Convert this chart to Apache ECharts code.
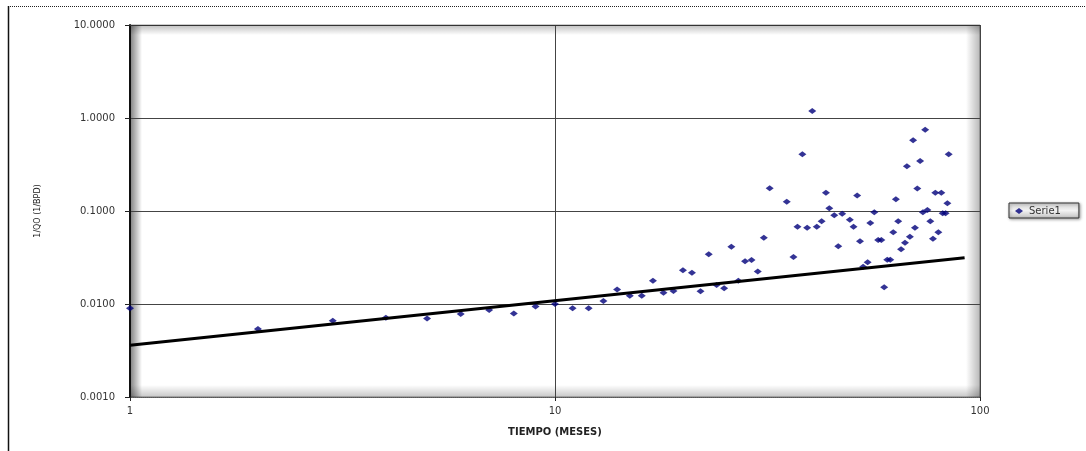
<!DOCTYPE html>
<html>
<head>
<meta charset="utf-8">
<script src="https://cdn.jsdelivr.net/npm/echarts@6/dist/echarts.min.js"></script>
<style>
html,body{margin:0;padding:0;background:#fff;}
#chart{width:1086px;height:451px;}
</style>
</head>
<body>
<div id="chart"></div>
<script>
// ---- data ----
var months = [1, 2, 3, 4, 5, 6, 7, 8, 9, 10, 11, 12, 13, 14, 15, 16, 17, 18, 19, 20,
  21, 22, 23, 24, 25, 26, 27, 28, 29, 30, 31, 32, 35.1, 36.4, 37.2, 38.2, 39.2, 40.3, 41.3, 42.4,
  43.4, 44.2, 45.4, 46.4, 47.4, 49.4, 50.4, 51.4, 52.2, 53.1, 54.4, 55.2, 56.4, 57.6, 58.6, 59.5,
  60.5, 61.5, 62.5, 63.4, 64.2, 65.2, 66.6, 67.3, 68.4, 69.6, 70.3, 71.2, 72.3, 73.4, 74.3, 75.2,
  76.4, 77.5, 78.5, 79.8, 81.1, 81.7, 83.0, 83.8, 84.4];
var invQo = [0.0090, 0.0054, 0.0066, 0.0071, 0.0070, 0.0078, 0.0086, 0.0079, 0.0094, 0.0100,
  0.0090, 0.0090, 0.0108, 0.0143, 0.0123, 0.0123, 0.0178, 0.0132, 0.0138, 0.0230,
  0.0217, 0.0137, 0.0342, 0.0160, 0.0148, 0.0413, 0.0178, 0.0289, 0.0298, 0.0223,
  0.0516, 0.176, 0.126, 0.0320, 0.0678, 0.407, 0.0661, 1.19, 0.0678, 0.0775,
  0.157, 0.107, 0.0899, 0.0417, 0.0935, 0.0806, 0.0678, 0.147, 0.0472, 0.0252,
  0.0281, 0.0743, 0.0968, 0.0488, 0.0488, 0.0151, 0.0299, 0.0299, 0.0590, 0.134,
  0.0775, 0.0387, 0.0456, 0.303, 0.0529, 0.576, 0.0661, 0.175, 0.345, 0.0968,
  0.748, 0.1025, 0.0775, 0.0504, 0.157, 0.0590, 0.157, 0.0945, 0.0945, 0.121, 0.407];
var trendX = [1, 92];
var trendY = [0.0036, 0.0315];
var seriesName = 'Serie1';
var xTitle = 'TIEMPO (MESES)';
var yTitle = '1/QO (1/BPD)';

var scatterData = months.map(function (m, i) { return [m, invQo[i]]; });
var trendData = trendX.map(function (x, i) { return [x, trendY[i]]; });

var G = {left: 130, top: 25, right: 980, bottom: 397};
var font = 'DejaVu Sans, Verdana, sans-serif';

var chart = echarts.init(document.getElementById('chart'), null, {renderer: 'canvas'});
chart.setOption({
  backgroundColor: '#ffffff',
  animation: false,
  grid: {
    left: G.left, top: G.top, right: 1086 - G.right, bottom: 451 - G.bottom,
    show: true, backgroundColor: '#ffffff', borderColor: '#9a9a9a', borderWidth: 1
  },
  legend: {
    data: [{name: seriesName, icon: 'diamond'}],
    left: 1009, top: 203,
    itemWidth: 8, itemHeight: 6, itemGap: 4,
    padding: [3, 18, 2, 6],
    backgroundColor: {type: 'linear', x: 0, y: 0, x2: 0, y2: 1,
      colorStops: [{offset: 0, color: '#d0d0d0'}, {offset: 0.5, color: '#f2f2f2'}, {offset: 1, color: '#c0c0c0'}]},
    borderColor: '#333', borderWidth: 1,
    shadowColor: 'rgba(0,0,0,0.35)', shadowBlur: 3, shadowOffsetX: 1, shadowOffsetY: 1,
    textStyle: {fontFamily: font, fontSize: 10, color: '#333', padding: [0, 0, 0, 1]}
  },
  xAxis: {
    type: 'log', logBase: 10, min: 1, max: 100,
    name: xTitle, nameLocation: 'middle', nameGap: 30,
    nameTextStyle: {fontFamily: font, fontSize: 10, fontWeight: 'bold', color: '#222'},
    axisLine: {show: true, lineStyle: {color: '#666', width: 1, type: 'dotted'}},
    axisTick: {show: true, length: 4, lineStyle: {color: '#222'}},
    minorTick: {show: false},
    axisLabel: {fontFamily: font, fontSize: 10, color: '#333', margin: 9},
    splitLine: {show: true, lineStyle: {color: '#444', width: 1}}
  },
  yAxis: {
    type: 'log', logBase: 10, min: 0.001, max: 10,
    name: yTitle, nameLocation: 'middle', nameGap: 88, nameRotate: 90,
    nameTextStyle: {fontFamily: font, fontSize: 8, color: '#222'},
    axisLine: {show: true, lineStyle: {color: '#111', width: 2}},
    axisTick: {show: true, length: 5, lineStyle: {color: '#222'}},
    axisLabel: {fontFamily: font, fontSize: 10, color: '#333', margin: 15,
      formatter: function (v) { return Number(v).toFixed(4); }},
    splitLine: {show: true, lineStyle: {color: '#444', width: 1}}
  },
  graphic: [
    {type: 'rect', silent: true, z: 0,
      shape: {x: G.left, y: G.top, width: 12, height: G.bottom - G.top},
      style: {fill: {type: 'linear', x: 0, y: 0, x2: 1, y2: 0,
        colorStops: [{offset: 0, color: 'rgba(0,0,0,0.5)'}, {offset: 1, color: 'rgba(0,0,0,0)'}]}}},
    {type: 'rect', silent: true, z: 0,
      shape: {x: G.left, y: G.top, width: G.right - G.left, height: 10},
      style: {fill: {type: 'linear', x: 0, y: 0, x2: 0, y2: 1,
        colorStops: [{offset: 0, color: 'rgba(0,0,0,0.25)'}, {offset: 1, color: 'rgba(0,0,0,0)'}]}}},
    {type: 'rect', silent: true, z: 0,
      shape: {x: G.right - 14, y: G.top, width: 14, height: G.bottom - G.top},
      style: {fill: {type: 'linear', x: 0, y: 0, x2: 1, y2: 0,
        colorStops: [{offset: 0, color: 'rgba(0,0,0,0)'}, {offset: 1, color: 'rgba(0,0,0,0.28)'}]}}},
    {type: 'rect', silent: true, z: 0,
      shape: {x: G.left, y: G.bottom - 12, width: G.right - G.left, height: 12},
      style: {fill: {type: 'linear', x: 0, y: 0, x2: 0, y2: 1,
        colorStops: [{offset: 0, color: 'rgba(0,0,0,0)'}, {offset: 1, color: 'rgba(0,0,0,0.22)'}]}}},
    {type: 'line', silent: true, z: 5,
      shape: {x1: G.left, y1: G.top + 0.5, x2: G.right, y2: G.top + 0.5},
      style: {stroke: '#333', lineWidth: 1}},
    {type: 'line', silent: true, z: 5,
      shape: {x1: 8, y1: 6.5, x2: 1086, y2: 6.5},
      style: {stroke: '#222', lineWidth: 1, lineDash: [1, 1]}},
    {type: 'line', silent: true, z: 5,
      shape: {x1: 8.5, y1: 6, x2: 8.5, y2: 451},
      style: {stroke: '#111', lineWidth: 1.5}}
  ],
  series: [
    {
      name: seriesName, type: 'scatter', data: scatterData,
      symbol: 'diamond', symbolSize: [8, 6],
      itemStyle: {color: '#00007a'}, z: 3
    },
    {
      name: 'trend', type: 'line', data: trendData,
      showSymbol: false, symbol: 'none',
      lineStyle: {color: '#000', width: 3}, z: 4
    }
  ]
});
</script>
</body>
</html>
